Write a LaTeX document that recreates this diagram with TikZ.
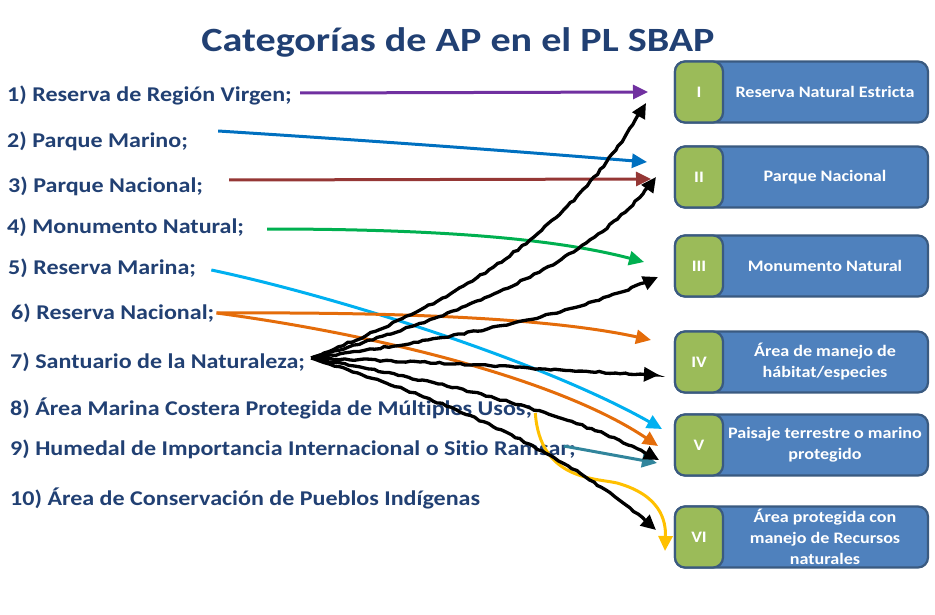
\documentclass[tikz,border=0pt]{standalone}
\usepackage{fontspec}
\setmainfont{Carlito}[Ligatures=NoCommon]
\usetikzlibrary{arrows.meta,decorations.pathmorphing,calc}
\definecolor{navy}{RGB}{33,64,115}
\definecolor{boxblue}{HTML}{4F81BD}
\definecolor{boxgreen}{HTML}{9BBB59}
\definecolor{boxline}{HTML}{3A5A80}
\definecolor{cpurple}{HTML}{7030A0}
\definecolor{cblue}{HTML}{0070C0}
\definecolor{cdred}{HTML}{953735}
\definecolor{cgreen}{HTML}{00B050}
\definecolor{clblue}{HTML}{00B0F0}
\definecolor{corange}{HTML}{E46C0A}
\definecolor{cteal}{HTML}{31859C}
\definecolor{cyellow}{HTML}{FFC000}
\begin{document}
\begin{tikzpicture}[x=1pt,y=-1pt,
  lab/.style={anchor=west,inner sep=0pt,text=navy,font=\fontsize{21}{25}\selectfont\bfseries\addfontfeature{FakeStretch=1.145}},
  bluebox/.style={draw=boxline,line width=2.2pt,fill=boxblue,rounded corners=10pt,minimum width=253pt,minimum height=61pt,inner sep=0pt},
  greenbox/.style={draw=boxline,line width=2.2pt,fill=boxgreen,rounded corners=10pt,minimum width=48pt,minimum height=61pt,inner sep=0pt,text=white,font=\fontsize{16}{20}\selectfont\bfseries\addfontfeature{FakeStretch=1.13}},
  btext/.style={text=white,align=center,inner sep=0pt,font=\fontsize{16}{21}\selectfont\bfseries\addfontfeature{FakeStretch=1.13}},
  arr/.style={line width=3pt,-{Triangle[length=15pt,width=14pt]}},
  warr/.style={arr,black,line width=3.3pt,decorate,decoration={random steps,segment length=5pt,amplitude=0.9pt,pre length=4pt,post length=6pt}}
]
\useasboundingbox (0,0) rectangle (935,615);

% title
\node[text=navy,font=\fontsize{34}{40}\selectfont\bfseries\addfontfeature{FakeStretch=1.18},inner sep=0pt] (title) at (458,42) {Categorías de AP en el PL SBAP};

% left labels
\node[lab] (l1) at (7,95) {1) Reserva de Región Virgen;};
\node[lab] (l2) at (7,141) {2) Parque Marino;};
\node[lab] (l3) at (8,186) {3) Parque Nacional;};
\node[lab] (l4) at (7,227) {4) Monumento Natural;};
\node[lab] (l5) at (8,268) {5) Reserva Marina;};
\node[lab] (l6) at (11,313) {6) Reserva Nacional;};
\node[lab] (l7) at (10,362) {7) Santuario de la Naturaleza;};
\node[lab] (l8) at (10,408) {8) Área Marina Costera Protegida de Múltiples Usos;};
\node[lab] (l9) at (10,449) {9) Humedal de Importancia Internacional o Sitio Ramsar;};
\node[lab] (l10) at (10,498) {10) Área de Conservación de Pueblos Indígenas};

% boxes
\foreach \n/\y/\r/\t in {1/92/I/{Reserva Natural Estricta},
                         2/177/II/{Parque Nacional},
                         3/266/III/{Monumento Natural},
                         4/362/IV/{Área de manejo de\\hábitat/especies},
                         5/445/V/{Paisaje terrestre o marino\\protegido},
                         6/537/VI/{Área protegida con\\manejo de Recursos\\naturales}}{
  \node[bluebox] (b\n) at (801.5,\y) {};
  \node[greenbox] (g\n) at (699,\y) {\r};
  \node[btext] (bt\n) at (825,\y) {\t};
}

% arrow tips
\coordinate (p1) at (648,92);
\coordinate (p2) at (647,162);
\coordinate (p3) at (651,179);
\coordinate (p4) at (644,262);
\coordinate (p5) at (662,429);
\coordinate (p6a) at (651,340);
\coordinate (p6b) at (658,446);
\coordinate (p9) at (657,463);
\coordinate (p8) at (665,551);
\coordinate (k1) at (646,103);
\coordinate (k2) at (656,177);
\coordinate (k3) at (658,277);
\coordinate (k4) at (659,375);
\coordinate (k5) at (659,460);
\coordinate (k6) at (656,530);

% colored arrows
\draw[arr,cpurple] ([xshift=8pt,yshift=2pt]l1.east) -- (p1);
\draw[arr,cblue] ([xshift=30pt,yshift=10pt]l2.east) .. controls (360,140) and (500,150) .. (p2);
\draw[arr,cdred] ([xshift=26pt,yshift=6pt]l3.east) -- (p3);
\draw[arr,cgreen] ([xshift=23pt,yshift=-2pt]l4.east) .. controls (450,229) and (560,240) .. (p4);
\draw[arr,clblue] ([xshift=15pt,yshift=-2pt]l5.east) .. controls (330,295) and (540,360) .. (p5);
\draw[arr,corange] ([xshift=2pt]l6.east) .. controls (400,312) and (550,318) .. (p6a);
\draw[arr,corange] ([xshift=2pt]l6.east) .. controls (380,335) and (560,380) .. (p6b);
\draw[arr,cteal] ([xshift=-12pt,yshift=3pt]l9.east) -- (p9);
\draw[arr,cyellow] ([xshift=3pt,yshift=-5pt]l8.east) .. controls (540,480) and (595,478) .. (617,483)
   .. controls (660,495) and (666,520) .. (p8);

% black wavy arrows from 7)
\draw[warr] ([xshift=6pt,yshift=4pt]l7.east) .. controls (460,300) and (570,235) .. (k1);
\draw[warr] ([xshift=6pt,yshift=4pt]l7.east) .. controls (480,310) and (600,255) .. (k2);
\draw[warr] ([xshift=6pt,yshift=4pt]l7.east) .. controls (480,335) and (580,312) .. (k3);
\draw[warr] ([xshift=6pt,yshift=4pt]l7.east) .. controls (450,362) and (550,370) .. (k4);
\draw[warr] ([xshift=6pt,yshift=4pt]l7.east) .. controls (430,380) and (570,410) .. (k5);
\draw[warr] ([xshift=6pt,yshift=4pt]l7.east) .. controls (430,395) and (560,445) .. (k6);
\end{tikzpicture}
\end{document}
